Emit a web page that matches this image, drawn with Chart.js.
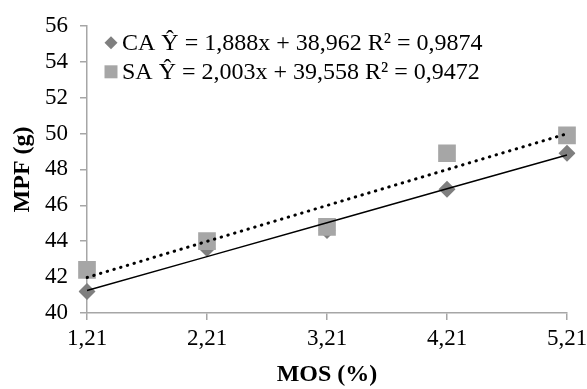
<!DOCTYPE html>
<html>
<head>
<meta charset="utf-8">
<script src="https://cdn.jsdelivr.net/npm/chart.js@4.4.0/dist/chart.umd.min.js"></script>
<style>
  body { margin: 0; background: #fff; }
</style>
</head>
<body>
<canvas id="mpf" width="587" height="389"></canvas>
<script>
// values
const mosLabels = ['1,21', '2,21', '3,21', '4,21', '5,21'];
const caValues = [41.2, 43.6, 44.6, 46.9, 48.9];
const saValues = [42.4, 44.0, 44.8, 48.9, 49.9];
// trend lines as drawn (values at each MOS level)
const caTrend = [41.25, 43.14, 45.03, 46.92, 48.80];
const saTrend = [41.98, 43.99, 45.99, 47.99, 49.99];
const caLegend = 'CA Ŷ = 1,888x + 38,962 R² = 0,9874';
const saLegend = 'SA Ŷ = 2,003x + 39,558 R² = 0,9472';

const serif = "'Liberation Serif', 'Times New Roman', serif";
const caColor = '#7f7f7f';
const saColor = '#a6a6a6';
const axisColor = '#a6a6a6';

// legend drawn inside the plot, top left
const insideLegend = {
    id: 'insideLegend',
    afterDraw(chart) {
        const ctx = chart.ctx;
        const area = chart.chartArea;
        const mx = area.left + 24;
        const rows = [
            { text: caLegend, color: caColor, shape: 'diamond', y: area.top + 17 },
            { text: saLegend, color: saColor, shape: 'square', y: area.top + 46 }
        ];
        ctx.save();
        ctx.font = '24px ' + serif;
        ctx.textBaseline = 'middle';
        rows.forEach(r => {
            ctx.fillStyle = r.color;
            ctx.beginPath();
            if (r.shape === 'diamond') {
                ctx.moveTo(mx, r.y - 6.5);
                ctx.lineTo(mx + 6.5, r.y);
                ctx.lineTo(mx, r.y + 6.5);
                ctx.lineTo(mx - 6.5, r.y);
                ctx.closePath();
            } else {
                ctx.rect(mx - 6.5, r.y - 6.5, 13, 13);
            }
            ctx.fill();
            ctx.fillStyle = '#000';
            ctx.textAlign = 'left';
            ctx.fillText(r.text, mx + 11, r.y + 1);
        });
        ctx.restore();
    }
};

const ctx = document.getElementById('mpf').getContext('2d');
const chart = new Chart(ctx, {
    type: 'line',
    data: {
        labels: mosLabels,
        datasets: [
            {
                label: 'CA',
                data: caValues,
                showLine: false,
                pointStyle: 'rectRot',
                pointRadius: 8.5,
                backgroundColor: caColor,
                borderColor: caColor,
                pointBorderWidth: 0,
                order: 2
            },
            {
                label: 'SA',
                data: saValues,
                showLine: false,
                pointStyle: 'rect',
                pointRadius: 12.5,
                backgroundColor: saColor,
                borderColor: saColor,
                pointBorderWidth: 0,
                order: 1
            },
            {
                label: 'CA trend',
                data: caTrend,
                borderColor: '#000',
                borderWidth: 1.5,
                pointRadius: 0,
                fill: false,
                order: 0
            },
            {
                label: 'SA trend',
                data: saTrend,
                borderColor: '#000',
                borderWidth: 3,
                borderDash: [0.5, 6.5],
                borderCapStyle: 'round',
                pointRadius: 0,
                fill: false,
                order: 0
            }
        ]
    },
    options: {
        responsive: false,
        animation: false,
        layout: { padding: { left: 0, right: 20, top: 18, bottom: 0 } },
        plugins: {
            legend: { display: false },
            tooltip: { enabled: false }
        },
        scales: {
            x: {
                offset: false,
                border: { display: true, color: axisColor, width: 1.5 },
                grid: { drawOnChartArea: false, drawTicks: true, tickLength: 7, color: axisColor, lineWidth: 1.5 },
                ticks: { color: '#000', font: { family: serif, size: 23 }, padding: 5, maxRotation: 0 },
                title: {
                    display: true,
                    text: 'MOS (%)',
                    color: '#000',
                    font: { family: serif, size: 24, weight: 'bold' },
                    padding: 0
                },
                afterFit(scale) {
                    scale.height = 76;
                    scale.paddingLeft = 0;
                    scale.paddingRight = 0;
                }
            },
            y: {
                min: 40,
                max: 56,
                border: { display: true, color: axisColor, width: 1.5 },
                grid: { drawOnChartArea: false, drawTicks: true, tickLength: 7, color: axisColor, lineWidth: 1.5 },
                ticks: { stepSize: 2, color: '#000', font: { family: serif, size: 23 }, padding: 12 },
                title: {
                    display: true,
                    text: 'MPF (g)',
                    color: '#000',
                    font: { family: serif, size: 24, weight: 'bold' },
                    padding: { top: 8, bottom: 0 }
                },
                afterFit(scale) { scale.width = 87; }
            }
        }
    },
    plugins: [insideLegend]
});
</script>
</body>
</html>
